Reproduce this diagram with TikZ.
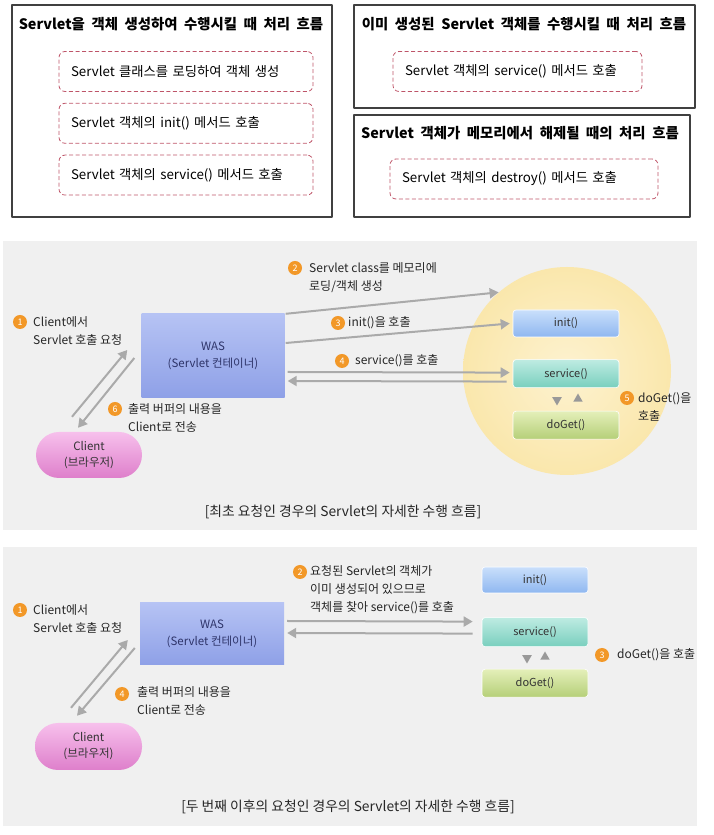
\documentclass[tikz,border=0pt]{standalone}
\usepackage{fontspec}
\setmainfont{Noto Sans CJK KR}
\newfontfamily\titlefont[WordSpace=2.4]{Noto Sans CJK KR}
\newfontfamily\boxfont[WordSpace=2.0]{Noto Sans CJK KR}
\usetikzlibrary{arrows.meta, shapes, positioning}
\usepackage{xcolor}
\definecolor{panelgray}{RGB}{240,240,240}
\definecolor{arrowgray}{RGB}{170,170,170}
\definecolor{dashred}{RGB}{190,84,104}
\definecolor{badgeorange}{RGB}{242,152,40}
\definecolor{poolinner}{RGB}{253,242,208}
\definecolor{poolouter}{RGB}{250,231,172}
\definecolor{wastop}{RGB}{182,195,244}
\definecolor{wasbottom}{RGB}{142,160,231}
\definecolor{wastext}{RGB}{46,52,105}
\definecolor{clienttop}{RGB}{247,192,236}
\definecolor{clientbottom}{RGB}{222,127,203}
\definecolor{inittop}{RGB}{201,223,251}
\definecolor{initbottom}{RGB}{143,183,240}
\definecolor{servicetop}{RGB}{190,235,226}
\definecolor{servicebottom}{RGB}{121,207,190}
\definecolor{dogettop}{RGB}{228,239,185}
\definecolor{dogetbottom}{RGB}{181,207,120}
\tikzset{titlebox/.style={draw=black!75, line width=1.1pt},
titletext/.style={font=\titlefont\bfseries\fontsize{14.4}{16}\selectfont, inner sep=0pt},
dashbox/.style={draw=dashred, dash pattern=on 4pt off 2.5pt, rounded corners=6pt, line width=0.8pt, minimum height=40pt, inner xsep=12pt, text width=#1, align=left, font=\boxfont\fontsize{13.3}{15}\selectfont}}
\tikzset{wasbox/.style={top color=wastop, bottom color=wasbottom, minimum width=143pt, align=center, text=wastext, font=\fontsize{11.5}{17}\selectfont},
clientbox/.style={top color=clienttop, bottom color=clientbottom, rounded corners=23pt, minimum width=106pt, minimum height=46pt, align=center, text=black!80, font=\fontsize{11.5}{16}\selectfont},
methodbox/.style={draw=white, line width=0.6pt, rounded corners=3pt, minimum width=106pt, text=black!80, font=\fontsize{11}{13}\selectfont}}

\begin{document}
\begin{tikzpicture}[
        line join=bevel,
        flowarrow/.style={arrowgray, line width=2pt, -{Triangle[length=9pt, width=10pt]}},
        badge/.style={circle, fill=badgeorange, text=white, inner sep=0pt, minimum size=14pt, font=\fontsize{9}{9}\selectfont},
        note/.style={anchor=west, align=left, inner sep=0pt, text=black!85, font=\fontsize{12}{18}\selectfont},
        caption/.style={inner sep=0pt, text=black!85, font=\fontsize{13.8}{16}\selectfont},
        tri/.style={regular polygon, regular polygon sides=3, fill=arrowgray!90!black, inner sep=0pt, minimum size=11pt}
    ]
        \useasboundingbox (0pt, 0pt) rectangle (713pt, 835pt);
        % Frames
        \draw[titlebox] (12pt, 618pt) rectangle (332pt, 830pt);
        \draw[titlebox] (354pt, 727pt) rectangle (695pt, 830pt);
        \draw[titlebox] (354pt, 618pt) rectangle (690pt, 720pt);
        \node[titletext] (create) at (171pt, 811pt) {Servlet을 객체 생성하여 수행시킬 때 처리 흐름};
        \node[titletext] (reuse) at (524pt, 811pt) {이미 생성된 Servlet 객체를 수행시킬 때 처리 흐름};
        \node[titletext] (release) at (520pt, 702pt) {Servlet 객체가 메모리에서 해제될 때의 처리 흐름};
        % Steps
        \node[dashbox=230pt] (load) at (186pt, 763.5pt) {Servlet 클래스를 로딩하여 객체 생성};
        \node[dashbox=230pt, below=11pt of load] (callinit) {Servlet 객체의 init() 메서드 호출};
        \node[dashbox=230pt, below=11pt of callinit] (callservice) {Servlet 객체의 service() 메서드 호출};
        \node[dashbox=225pt] (reservice) at (517.5pt, 763.5pt) {Servlet 객체의 service() 메서드 호출};
        \node[dashbox=244pt] (calldestroy) at (524pt, 656pt) {Servlet 객체의 destroy() 메서드 호출};
        % Panels
        \fill[panelgray] (3pt, 305pt) rectangle (697pt, 594pt);
        \fill[panelgray] (3pt, 9pt) rectangle (697pt, 288pt);
        % First request
        \node[circle, inner color=poolinner, outer color=poolouter, minimum size=208pt] (pool) at (567pt, 464pt) {};
        \node[wasbox, minimum height=84pt] (was) at (213pt, 479pt) {WAS\\(Servlet 컨테이너)};
        \node[clientbox] (client) at (89pt, 380pt) {Client\\(브라우저)};
        \node[methodbox, top color=inittop, bottom color=initbottom, minimum height=27pt] (init) at (566pt, 511.5pt) {init()};
        \node[methodbox, top color=servicetop, bottom color=servicebottom, minimum height=28pt, below=22pt of init] (service) {service()};
        \node[methodbox, top color=dogettop, bottom color=dogetbottom, minimum height=28pt, below=23pt of service] (doget) {doGet()};
        \node[tri, shape border rotate=180] (down) at (557pt, 435pt) {};
        \node[tri] (up) at (578pt, 436pt) {};
        \foreach \n/\x/\y in {1/20/513, 2/295/567, 3/338/512, 4/342/474, 5/627/437, 6/115/426} {
            \node[badge] (first\n) at (\x pt, \y pt) {\n};
        }
        \node[note] (firstnote1) at (33pt, 504pt) {Client에서\\Servlet 호출 요청};
        \node[note] (firstnote2) at (309pt, 557pt) {Servlet class를 메모리에\\로딩/객체 생성};
        \node[note] (firstnote3) at (348pt, 512pt) {init()을 호출};
        \node[note] (firstnote4) at (355pt, 474pt) {service()를 호출};
        \node[note] (firstnote5) at (638pt, 427.5pt) {doGet()을\\호출};
        \node[note] (firstnote6) at (128pt, 417pt) {출력 버퍼의 내용을\\Client로 전송};
        \draw[flowarrow] ([xshift=-17pt, yshift=15pt]client.north) -- ([xshift=-14pt, yshift=6pt]was.west);
        \draw[flowarrow] ([xshift=-7pt, yshift=-2pt]was.west) -- ([xshift=-11pt, yshift=4pt]client.north);
        \draw[flowarrow] ([xshift=1pt]was.north east) -- (pool.131);
        \draw[flowarrow] ([xshift=1pt, yshift=13pt]was.east) -- ([xshift=-3pt]init.west);
        \draw[flowarrow] ([xshift=3pt, yshift=-16pt]was.east) -- ([xshift=-3pt, yshift=1pt]service.west);
        \draw[flowarrow] ([xshift=-6pt, yshift=-8pt]service.west) -- ([xshift=3pt, yshift=-25pt]was.east);
        \node[caption] (firstcaption) at (343pt, 323pt) {[최초 요청인 경우의 Servlet의 자세한 수행 흐름]};
        % Later requests
        \node[wasbox, minimum height=62pt, minimum width=144pt] (was2) at (212pt, 201pt) {WAS\\(Servlet 컨테이너)};
        \node[clientbox, minimum width=107pt, minimum height=47pt] (client2) at (88.5pt, 88.5pt) {Client\\(브라우저)};
        \node[methodbox, top color=inittop, bottom color=initbottom, minimum height=26pt] (init2) at (535pt, 255pt) {init()};
        \node[methodbox, top color=servicetop, bottom color=servicebottom, minimum height=29pt, below=24pt of init2] (service2) {service()};
        \node[methodbox, top color=dogettop, bottom color=dogetbottom, minimum height=28pt, below=22pt of service2] (doget2) {doGet()};
        \node[tri, shape border rotate=180] (down2) at (527pt, 177pt) {};
        \node[tri] (up2) at (545pt, 178pt) {};
        \foreach \n/\x/\y in {1/20/225, 2/300/263, 3/602/180, 4/122/141} {
            \node[badge] (later\n) at (\x pt, \y pt) {\n};
        }
        \node[note] (laternote1) at (33pt, 216pt) {Client에서\\Servlet 호출 요청};
        \node[note] (laternote2) at (310pt, 245.5pt) {요청된 Servlet의 객체가\\이미 생성되어 있으므로\\객체를 찾아 service()를 호출};
        \node[note] (laternote3) at (617pt, 180pt) {doGet()을 호출};
        \node[note] (laternote4) at (137pt, 134pt) {출력 버퍼의 내용을\\Client로 전송};
        \draw[flowarrow] ([xshift=-17.5pt, yshift=15pt]client2.north) -- ([xshift=-12pt, yshift=-6pt]was2.west);
        \draw[flowarrow] ([xshift=-5pt, yshift=-14pt]was2.west) -- ([xshift=-11.5pt, yshift=7pt]client2.north);
        \draw[flowarrow] ([xshift=3pt, yshift=13pt]was2.east) -- ([xshift=-9pt, yshift=10.5pt]service2.west);
        \draw[flowarrow] ([xshift=-9pt, yshift=-1.5pt]service2.west) -- ([xshift=3pt, yshift=1pt]was2.east);
        \node[caption] (latercaption) at (348pt, 28pt) {[두 번째 이후의 요청인 경우의 Servlet의 자세한 수행 흐름]};
    \end{tikzpicture}
\end{document}
